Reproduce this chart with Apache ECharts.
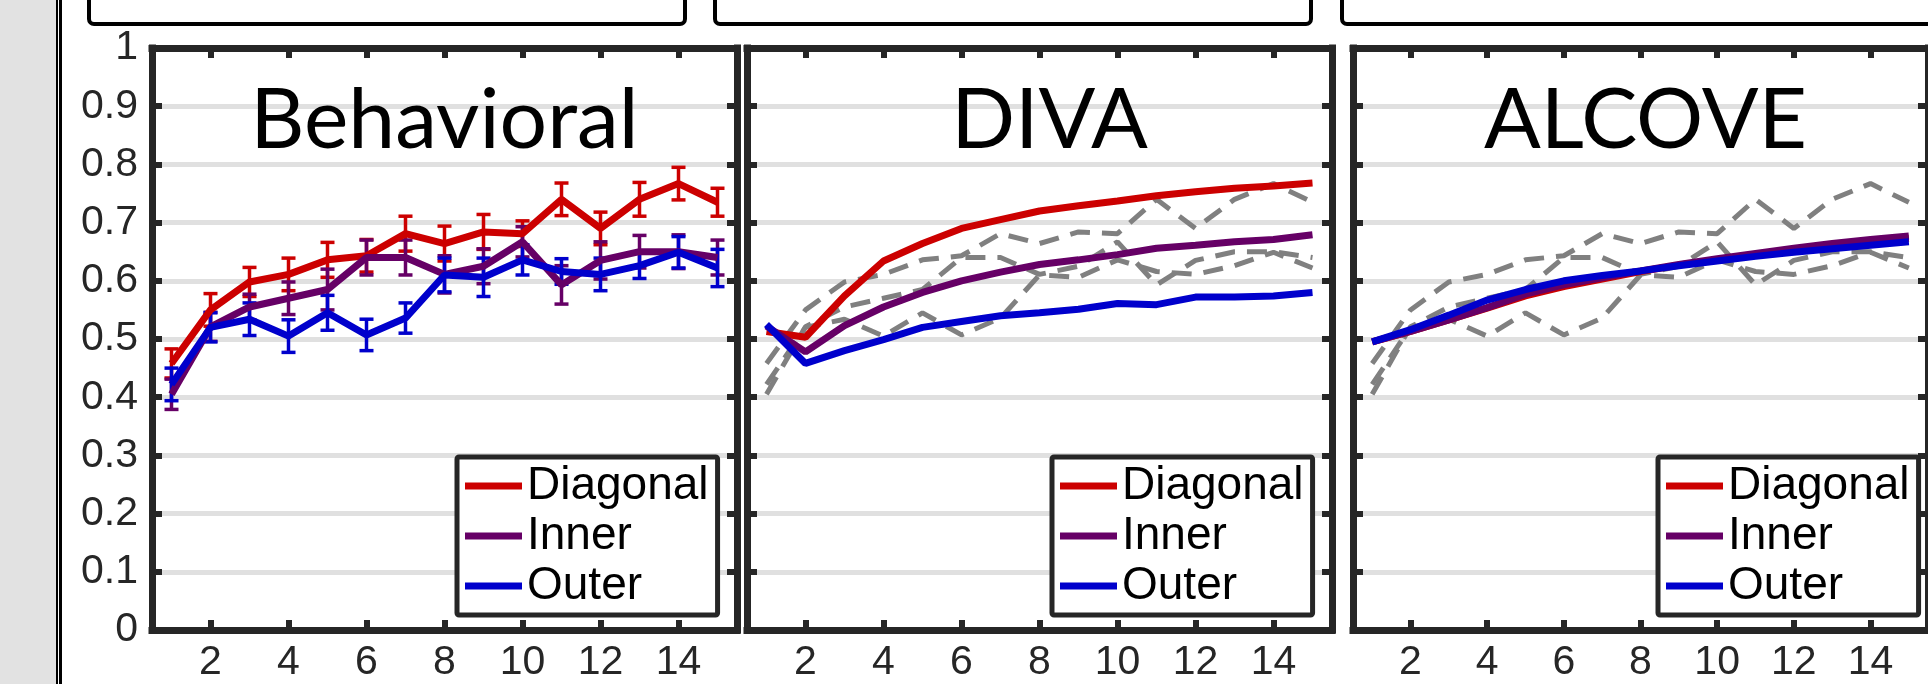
<!DOCTYPE html>
<html>
<head>
<meta charset="utf-8">
<title>Behavioral / DIVA / ALCOVE</title>
<script src="https://cdn.jsdelivr.net/npm/echarts@6/dist/echarts.min.js"></script>
<style>
  html, body { margin: 0; padding: 0; background: #fff; }
  #chart { width: 1928px; height: 684px; }
</style>
</head>
<body>
<div id="chart"></div>
<script>
  // x: trial block, y: proportion correct
  let trials = [1, 2, 3, 4, 5, 6, 7, 8, 9, 10, 11, 12, 13, 14, 15]
  let xTicks = [2, 4, 6, 8, 10, 12, 14]
  let groupNames = ['Diagonal', 'Inner', 'Outer']
  let panelTitles = ['Behavioral', 'DIVA', 'ALCOVE']

  // behavioral means + error bar half widths
  let behDiagonal = [0.458, 0.550, 0.598, 0.611, 0.636, 0.643, 0.681, 0.664, 0.684, 0.681, 0.740, 0.690, 0.740, 0.767, 0.735]
  let behInner = [0.405, 0.521, 0.555, 0.570, 0.585, 0.640, 0.640, 0.611, 0.625, 0.667, 0.593, 0.635, 0.650, 0.650, 0.640]
  let behOuter = [0.422, 0.520, 0.534, 0.505, 0.545, 0.507, 0.536, 0.610, 0.606, 0.636, 0.616, 0.611, 0.626, 0.649, 0.622]
  let behDiagonalErr = [0.025, 0.028, 0.025, 0.028, 0.030, 0.028, 0.030, 0.030, 0.030, 0.022, 0.028, 0.028, 0.029, 0.028, 0.024]
  let behInnerErr = [0.026, 0.025, 0.022, 0.028, 0.035, 0.030, 0.030, 0.032, 0.030, 0.026, 0.033, 0.032, 0.028, 0.029, 0.030]
  let behOuterErr = [0.028, 0.025, 0.028, 0.028, 0.030, 0.027, 0.026, 0.029, 0.033, 0.026, 0.022, 0.028, 0.022, 0.027, 0.032]

  // DIVA model
  let divaDiagonal = [0.513, 0.503, 0.574, 0.634, 0.664, 0.690, 0.705, 0.720, 0.729, 0.737, 0.746, 0.753, 0.759, 0.763, 0.768]
  let divaInner = [0.522, 0.478, 0.523, 0.555, 0.580, 0.600, 0.615, 0.628, 0.636, 0.645, 0.656, 0.661, 0.667, 0.671, 0.679]
  let divaOuter = [0.525, 0.458, 0.480, 0.499, 0.520, 0.530, 0.540, 0.545, 0.551, 0.561, 0.559, 0.572, 0.572, 0.574, 0.580]

  // ALCOVE model
  let alcoveDiagonal = [0.495, 0.513, 0.533, 0.553, 0.574, 0.590, 0.603, 0.616, 0.627, 0.636, 0.645, 0.653, 0.660, 0.667, 0.673]
  let alcoveInner = [0.495, 0.513, 0.533, 0.554, 0.577, 0.593, 0.605, 0.617, 0.628, 0.638, 0.647, 0.656, 0.664, 0.671, 0.677]
  let alcoveOuter = [0.495, 0.516, 0.541, 0.567, 0.585, 0.600, 0.609, 0.617, 0.626, 0.634, 0.642, 0.649, 0.655, 0.661, 0.667]

  let colors = ['#cc0000', '#660066', '#0000cc']
  let frameColor = '#262626'
  let gridLefts = [152, 747, 1353]
  let gridWidth = 585
  let gridTop = 48
  let gridHeight = 582

  function pairs(values) {
    return trials.map((t, i) => [t, values[i]])
  }

  function errRows(values, errs) {
    return trials.map((t, i) => [t, values[i] - errs[i], values[i] + errs[i]])
  }

  function renderErrorBar(params, api) {
    let x = api.value(0)
    let lo = api.coord([x, api.value(1)])
    let hi = api.coord([x, api.value(2)])
    let half = 7
    let style = { stroke: api.visual('color'), lineWidth: 3.5 }
    return {
      type: 'group',
      children: [
        { type: 'line', shape: { x1: lo[0], y1: lo[1], x2: hi[0], y2: hi[1] }, style: style },
        { type: 'line', shape: { x1: lo[0] - half, y1: lo[1], x2: lo[0] + half, y2: lo[1] }, style: style },
        { type: 'line', shape: { x1: hi[0] - half, y1: hi[1], x2: hi[0] + half, y2: hi[1] }, style: style }
      ]
    }
  }

  let axisLineStyle = { color: frameColor, width: 7, cap: 'square' }
  let tickStyle = { color: frameColor, width: 6 }
  let labelStyle = { color: frameColor, fontSize: 41, fontFamily: 'Liberation Sans' }

  let grids = []
  let xAxes = []
  let yAxes = []
  let legends = []
  let titles = []

  gridLefts.forEach((left, p) => {
    grids.push({ left: left, top: gridTop, width: gridWidth, height: gridHeight, containLabel: false })
    titles.push({
      type: 'text',
      x: left + gridWidth / 2 + (p === 1 ? 10 : 0),
      y: 121,
      style: {
        text: panelTitles[p],
        font: '84px Lato',
        fill: '#000',
        textAlign: 'center',
        textVerticalAlign: 'middle'
      },
      z: 10
    })
    legends.push({
      left: left + 305,
      top: 457,
      orient: 'vertical',
      selectedMode: false,
      data: groupNames,
      icon: 'rect',
      itemWidth: 57,
      itemHeight: 7,
      itemGap: 0,
      padding: [4, 9, 4, 8],
      backgroundColor: '#fff',
      borderColor: frameColor,
      borderWidth: 5,
      borderRadius: 2,
      textStyle: { color: '#000', fontSize: 46, fontFamily: 'Liberation Sans', lineHeight: 50 }
    })
  })

  // bottom + left axes carry the data; top + right only mirror ticks
  gridLefts.forEach((left, p) => {
    xAxes.push({
      type: 'value', gridIndex: p, min: 0.5, max: 15.5, position: 'bottom',
      axisLine: { show: true, onZero: false, lineStyle: axisLineStyle },
      axisTick: { show: true, inside: true, length: 10, customValues: xTicks, lineStyle: tickStyle },
      axisLabel: { show: true, customValues: xTicks, margin: 12, ...labelStyle },
      splitLine: { show: false }
    })
  })
  gridLefts.forEach((left, p) => {
    xAxes.push({
      type: 'value', gridIndex: p, min: 0.5, max: 15.5, position: 'top',
      axisLine: { show: true, onZero: false, lineStyle: axisLineStyle },
      axisTick: { show: true, inside: true, length: 10, customValues: xTicks, lineStyle: tickStyle },
      axisLabel: { show: false },
      splitLine: { show: false }
    })
  })
  gridLefts.forEach((left, p) => {
    yAxes.push({
      type: 'value', gridIndex: p, min: 0, max: 1, interval: 0.1, position: 'left',
      axisLine: { show: true, onZero: false, lineStyle: axisLineStyle },
      axisTick: { show: true, inside: true, length: 10, lineStyle: tickStyle },
      axisLabel: {
        show: p === 0, margin: 14, ...labelStyle,
        formatter: v => String(Math.round(v * 10) / 10)
      },
      splitLine: { show: true, lineStyle: { color: '#e0e0e0', width: 5 } }
    })
  })
  gridLefts.forEach((left, p) => {
    yAxes.push({
      type: 'value', gridIndex: p, min: 0, max: 1, interval: 0.1, position: 'right',
      axisLine: { show: true, onZero: false, lineStyle: axisLineStyle },
      axisTick: { show: true, inside: true, length: 10, lineStyle: tickStyle },
      axisLabel: { show: false },
      splitLine: { show: false }
    })
  })

  let behMeans = [behDiagonal, behInner, behOuter]
  let behErrs = [behDiagonalErr, behInnerErr, behOuterErr]
  let models = [null, [divaDiagonal, divaInner, divaOuter], [alcoveDiagonal, alcoveInner, alcoveOuter]]

  let series = []
  // 行为数据 + 误差线
  groupNames.forEach((name, g) => {
    series.push({
      name: name, type: 'line', xAxisIndex: 0, yAxisIndex: 0,
      data: pairs(behMeans[g]), showSymbol: false, symbol: 'none',
      itemStyle: { color: colors[g] },
      lineStyle: { color: colors[g], width: 7 },
      z: 3
    })
    series.push({
      name: name + ' SE', type: 'custom', xAxisIndex: 0, yAxisIndex: 0,
      data: errRows(behMeans[g], behErrs[g]),
      encode: { x: 0, y: [1, 2] },
      itemStyle: { color: colors[g] },
      renderItem: renderErrorBar,
      z: 3
    })
  })
  // model panels: behavioral means as grey dashes underneath
  ;[1, 2].forEach(p => {
    behMeans.forEach((vals, g) => {
      series.push({
        name: 'behavioral ' + groupNames[g], type: 'line', xAxisIndex: p, yAxisIndex: p,
        data: pairs(vals), showSymbol: false, symbol: 'none',
        itemStyle: { color: '#808080' },
        lineStyle: { color: '#808080', width: 5, type: [20, 12] },
        z: 2
      })
    })
    models[p].forEach((vals, g) => {
      series.push({
        name: groupNames[g], type: 'line', xAxisIndex: p, yAxisIndex: p,
        data: pairs(vals), showSymbol: false, symbol: 'none',
        itemStyle: { color: colors[g] },
        lineStyle: { color: colors[g], width: 7 },
        z: 3
      })
    })
  })

  // page furniture: grey margin strip and the tops of the caption boxes
  let furniture = [
    { type: 'rect', shape: { x: 0, y: 0, width: 56, height: 684 }, style: { fill: '#e2e2e2' } },
    { type: 'rect', shape: { x: 56, y: 0, width: 2, height: 684 }, style: { fill: '#000' } },
    { type: 'rect', shape: { x: 59, y: 0, width: 3, height: 684 }, style: { fill: '#000' } }
  ]
  ;[89, 715, 1342].forEach(x => {
    furniture.push({
      type: 'rect',
      shape: { x: x, y: -40, width: 596, height: 64, r: 5 },
      style: { fill: 'none', stroke: '#000', lineWidth: 4 }
    })
  })

  let chart = echarts.init(document.getElementById('chart'), null, { renderer: 'canvas' })
  chart.setOption({
    animation: false,
    backgroundColor: '#fff',
    grid: grids,
    xAxis: xAxes,
    yAxis: yAxes,
    legend: legends,
    graphic: furniture.concat(titles),
    series: series
  })
</script>
</body>
</html>
